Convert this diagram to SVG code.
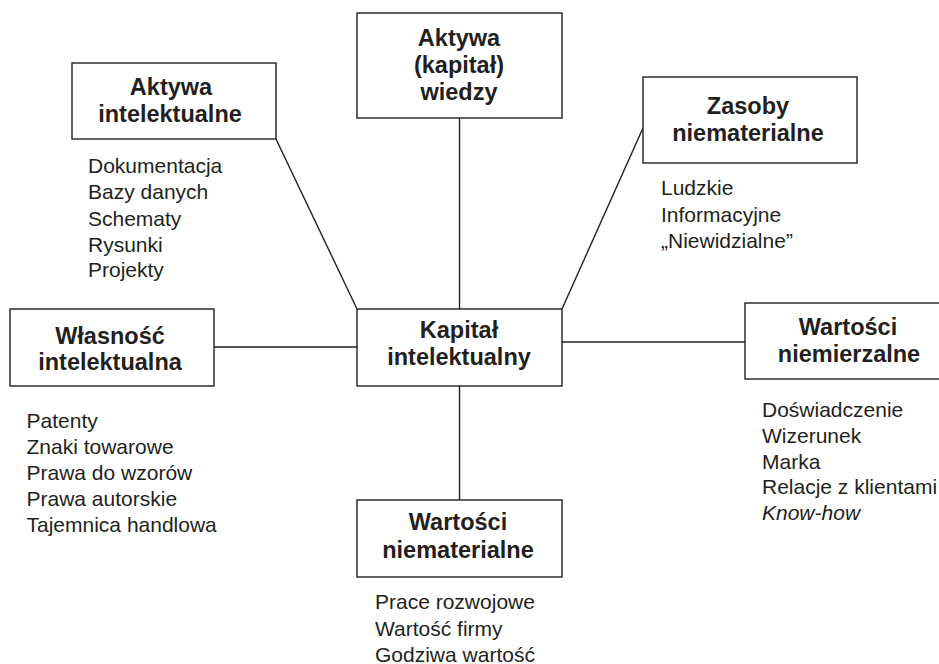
<svg xmlns="http://www.w3.org/2000/svg" width="939" height="664" viewBox="0 0 939 664">
<style>
.box{fill:#fff;stroke:#231f20;stroke-width:1.4}
.ln{stroke:#231f20;stroke-width:1.4;fill:none}
.t{font-family:"Liberation Sans",Arial,sans-serif;font-weight:bold;font-size:23.5px;fill:#231f20;text-anchor:middle}
.l{font-family:"Liberation Sans",Arial,sans-serif;font-size:21px;fill:#231f20}
</style>
<rect width="939" height="664" fill="#fff"/>
<g id="connectors">
<line class="ln" x1="459.5" y1="118" x2="459.5" y2="309"/>
<line class="ln" x1="276" y1="139" x2="357" y2="309"/>
<line class="ln" x1="643" y1="128" x2="562" y2="309"/>
<line class="ln" x1="214" y1="347" x2="357" y2="347"/>
<line class="ln" x1="562" y1="342" x2="745" y2="342"/>
<line class="ln" x1="459.5" y1="386" x2="459.5" y2="500"/>
</g>
<g id="aktywa-intelektualne">
<rect class="box" x="72" y="63" width="204" height="76"/>
<text class="t" x="171" y="95">Aktywa</text>
<text class="t" x="170" y="122">intelektualne</text>
<text class="l" x="88" y="173">Dokumentacja</text>
<text class="l" x="88" y="199">Bazy danych</text>
<text class="l" x="88" y="225.5">Schematy</text>
<text class="l" x="88" y="251.5">Rysunki</text>
<text class="l" x="88" y="277">Projekty</text>
</g>
<g id="aktywa-wiedzy">
<rect class="box" x="357" y="13" width="205" height="105"/>
<text class="t" x="459" y="46">Aktywa</text>
<text class="t" x="459" y="73">(kapitał)</text>
<text class="t" x="459" y="100">wiedzy</text>
</g>
<g id="zasoby-niematerialne">
<rect class="box" x="643" y="77" width="214" height="86"/>
<text class="t" x="748" y="114">Zasoby</text>
<text class="t" x="748" y="141">niematerialne</text>
<text class="l" x="661" y="195">Ludzkie</text>
<text class="l" x="661" y="221.5">Informacyjne</text>
<text class="l" x="661" y="247.5">„Niewidzialne”</text>
</g>
<g id="wlasnosc-intelektualna">
<rect class="box" x="10" y="309" width="204" height="77"/>
<text class="t" x="110" y="344">Własność</text>
<text class="t" x="110" y="370">intelektualna</text>
<text class="l" x="26.5" y="428">Patenty</text>
<text class="l" x="26.5" y="454">Znaki towarowe</text>
<text class="l" x="26.5" y="480">Prawa do wzorów</text>
<text class="l" x="26.5" y="506">Prawa autorskie</text>
<text class="l" x="26.5" y="532">Tajemnica handlowa</text>
</g>
<g id="kapital-intelektualny">
<rect class="box" x="357" y="309" width="205" height="77"/>
<text class="t" x="459" y="338">Kapitał</text>
<text class="t" x="459" y="365">intelektualny</text>
</g>
<g id="wartosci-niemierzalne">
<rect class="box" x="745" y="303" width="206" height="76"/>
<text class="t" x="848" y="335">Wartości</text>
<text class="t" x="849" y="362">niemierzalne</text>
<text class="l" x="762" y="417">Doświadczenie</text>
<text class="l" x="762" y="443">Wizerunek</text>
<text class="l" x="762" y="468.5">Marka</text>
<text class="l" x="762" y="494">Relacje z klientami</text>
<text class="l" x="762" y="520" font-style="italic">Know-how</text>
</g>
<g id="wartosci-niematerialne">
<rect class="box" x="357" y="500" width="205" height="77"/>
<text class="t" x="458" y="530">Wartości</text>
<text class="t" x="458" y="558">niematerialne</text>
<text class="l" x="375" y="609">Prace rozwojowe</text>
<text class="l" x="375" y="636">Wartość firmy</text>
<text class="l" x="375" y="661.5">Godziwa wartość</text>
</g>
</svg>
